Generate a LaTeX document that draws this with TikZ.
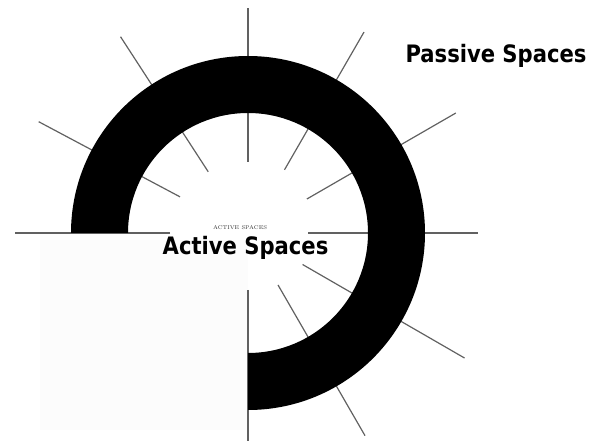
\documentclass[tikz,border=0pt]{standalone}
\usepackage{fontspec}
\newfontfamily\labelfont[FakeStretch=0.88]{DejaVu Sans}
\usetikzlibrary{calc}

\begin{document}
\begin{tikzpicture}[x=1pt,y=1pt,
  spoke/.style={draw=black!62,line width=1.2pt},
  ring/.style={fill=black},
  spacelabel/.style={inner sep=0pt,anchor=base,font=\labelfont\bfseries\fontsize{24}{28}\selectfont},
  smalllabel/.style={inner sep=0pt,font=\rmfamily\fontsize{5.5}{6}\selectfont,text=black!80},
]
\useasboundingbox (0,0) rectangle (590,440);

% ==== CENTRE ====
\coordinate (c) at (248,207);

% faint square in the open quarter
\fill[black!1] (40,10) rectangle (248,200);

% ==== SPOKES (angle / inner radius / outer radius) ====
\foreach \a/\ri/\ro in {0/60/230, 30/68/240, 60/73/232, 90/71/225, 123/73/234,
                        152/77/237, 180/78/233, -30/63/250, -60/60/234, -90/57/210}
  \draw[spoke] ($(c)+(\a:\ri)$) -- ($(c)+(\a:\ro)$);

% ==== RING (three quarters) ====
\fill[ring] ($(c)+(180:177)$) arc[start angle=180,end angle=-90,radius=177]
  -- ($(c)+(-90:120)$) arc[start angle=-90,end angle=180,radius=120] -- cycle;

% ==== LABELS ====
\node[spacelabel] (passive) at (496,377) {Passive Spaces};
\node[spacelabel] (active) at (245.5,185) {Active Spaces};
\node[smalllabel] (activesmall) at (240,212) {ACTIVE SPACES};

\end{tikzpicture}
\end{document}
